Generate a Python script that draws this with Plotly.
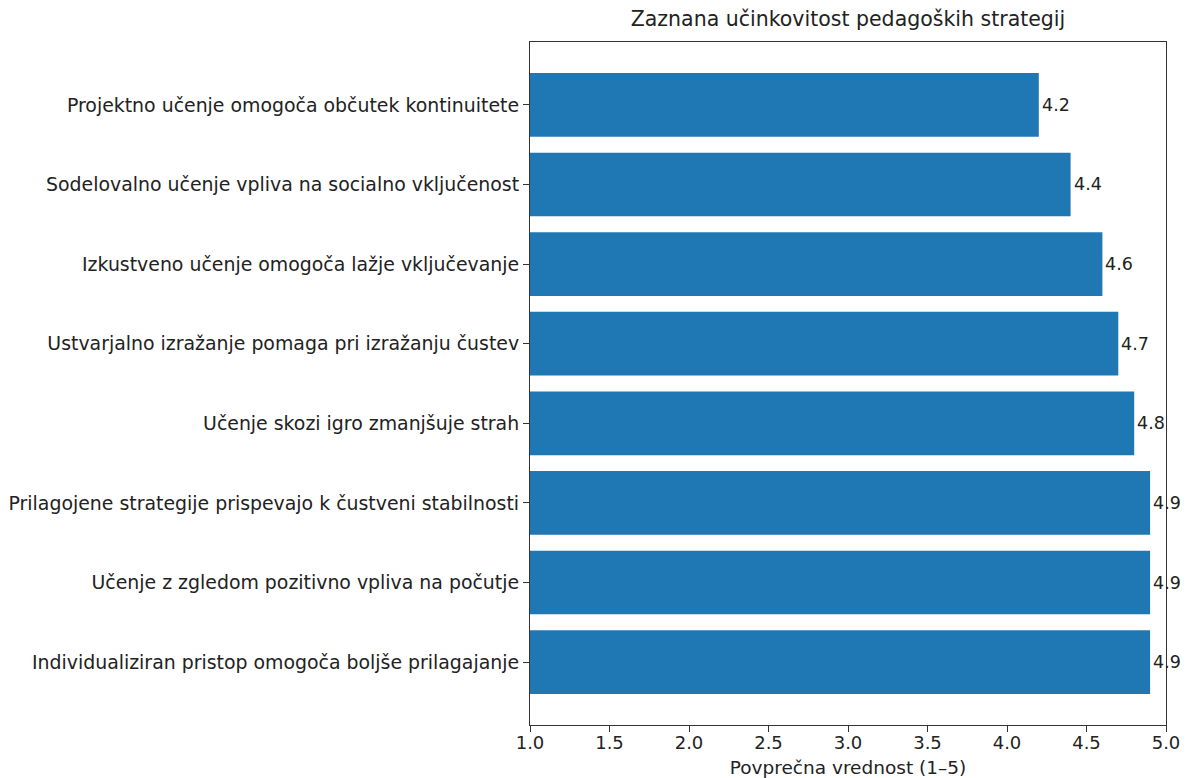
import plotly.graph_objects as go

categories = [
    "Projektno učenje omogoča občutek kontinuitete",
    "Sodelovalno učenje vpliva na socialno vključenost",
    "Izkustveno učenje omogoča lažje vključevanje",
    "Ustvarjalno izražanje pomaga pri izražanju čustev",
    "Učenje skozi igro zmanjšuje strah",
    "Prilagojene strategije prispevajo k čustveni stabilnosti",
    "Učenje z zgledom pozitivno vpliva na počutje",
    "Individualiziran pristop omogoča boljše prilagajanje",
]
values = [4.2, 4.4, 4.6, 4.7, 4.8, 4.9, 4.9, 4.9]
x_ticks = [1.0, 1.5, 2.0, 2.5, 3.0, 3.5, 4.0, 4.5, 5.0]
title = "Zaznana učinkovitost pedagoških strategij"
x_title = "Povprečna vrednost (1–5)"

FONT = "DejaVu Sans"
BAR = "#1f77b4"
FS = 18.5

# page body has an 8px margin, so the figure is offset by (8, 8)
OFF = 8
L, R, T, B = 530, 1189 - 1166, 42, 778 - 725
W, H = 1189 - OFF, 778 - OFF

fig = go.Figure()
fig.add_trace(go.Bar(
    y=categories, x=values, orientation="h",
    marker=dict(color=BAR, line=dict(width=0)),
    width=0.8, base=0, hoverinfo="x+y",
))
for cat, v in zip(categories, values):
    fig.add_annotation(
        x=v, y=cat, xref="x", yref="y", text=f"{v:.1f}",
        showarrow=False, xanchor="left", yanchor="middle", xshift=1,
        font=dict(family=FONT, size=17.5, color="#222222"),
    )

fig.update_layout(
    template="none",
    width=W, height=H,
    margin=dict(l=L - OFF, r=R, t=T - OFF, b=B, autoexpand=False),
    paper_bgcolor="white", plot_bgcolor="white",
    showlegend=False,
    font=dict(family=FONT, size=FS, color="#222222"),
    title=dict(text=title, x=((L + 1166) / 2 - OFF) / W, xanchor="center",
               y=1 - (19 - OFF) / H, yanchor="middle",
               font=dict(family=FONT, size=20.5, color="#222222")),
    xaxis=dict(
        range=[1.0, 5.0], tickvals=x_ticks,
        ticktext=[f"{t:.1f}" for t in x_ticks],
        showgrid=False, zeroline=False, automargin=False,
        showline=True, linecolor="#333333", linewidth=1.2, mirror=True,
        ticks="outside", ticklen=6, tickcolor="#333333",
        ticklabelstandoff=-5,
        tickfont=dict(family=FONT, size=18),
        title=dict(text=x_title, font=dict(family=FONT, size=FS), standoff=11),
    ),
    yaxis=dict(
        type="category", categoryorder="array", categoryarray=categories,
        range=[7.79, -0.79], automargin=False,
        showgrid=False, zeroline=False,
        showline=True, linecolor="#333333", linewidth=1.2, mirror=True,
        ticks="outside", ticklen=6, tickcolor="#333333",
        tickfont=dict(family=FONT, size=18.9),
    ),
)

fig.write_html("out.html")
